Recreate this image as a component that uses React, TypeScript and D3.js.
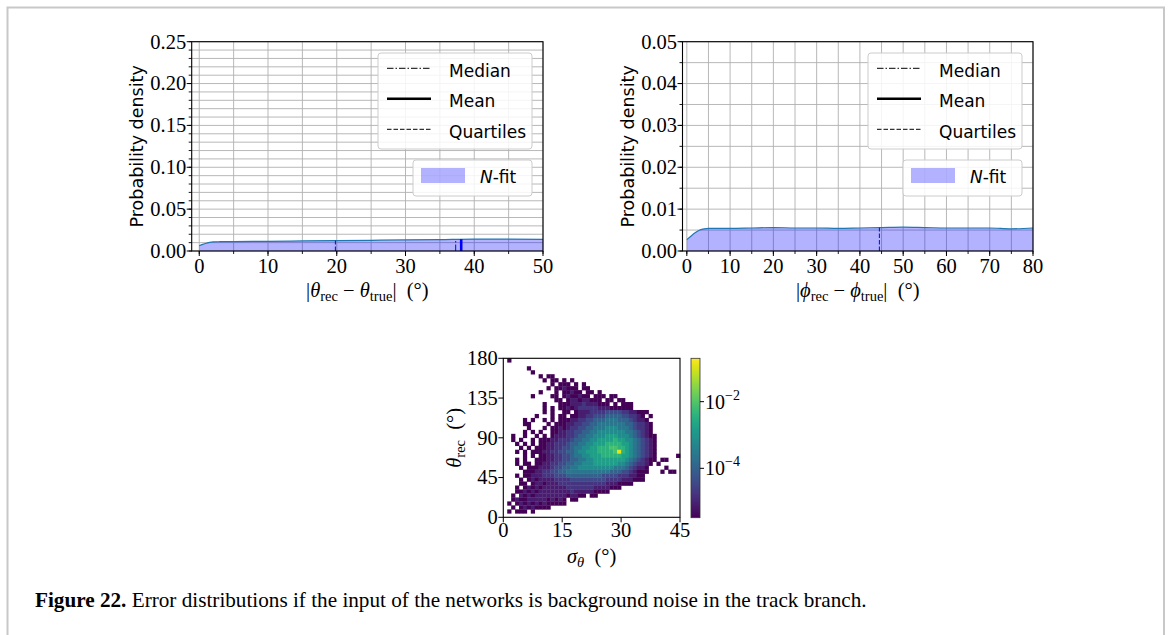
import React from 'react';
import * as d3 from 'd3';

// |theta_rec - theta_true| density curve (degrees, probability density)
const thetaErr = [0, 0.5, 1, 1.5, 2, 3, 5, 10, 15, 20, 25, 30, 35, 40, 45, 50];
const thetaDensity = [0.0062, 0.0079, 0.0093, 0.0102, 0.0108, 0.0111, 0.0113, 0.0116, 0.012, 0.0124, 0.0128, 0.0132, 0.0137, 0.0143, 0.0142, 0.014];
const thetaQuartiles = [19.8];
const thetaMedian = [37.3];
const thetaMean = [38.1];

// |phi_rec - phi_true| density curve
const phiErr = [0, 1, 2, 3, 4, 5, 10, 15, 20, 25, 30, 35, 40, 45, 50, 55, 60, 65, 70, 75, 80];
const phiDensity = [0.0027, 0.0036, 0.0044, 0.005, 0.0053, 0.0054, 0.0054, 0.0055, 0.0056, 0.0055, 0.0055, 0.0054, 0.0055, 0.0056, 0.0057, 0.0056, 0.0055, 0.0055, 0.0055, 0.0053, 0.0055];
const phiQuartiles = [44.5];
const phiMedian: number[] = [];
const phiMean: number[] = [];

// 2D histogram of sigma_theta (columns, 1 deg bins 0..45) vs theta_rec (rows, 4.5 deg bins, 180 at top)
// '.' = empty bin, digits / 'Y' = density level (see levelLog)
const hist2d = [
  '.1... ..... ..... ..... ..... ..... ..... ..... .....',
  '..... ..... ..... ..... ..... ..... ..... ..... .....',
  '..... .1... ..... ..... ..... ..... ..... ..... .....',
  '..... ..1.. ..... ..... ..... ..... ..... ..... .....',
  '..... ....1 .11.. ..... ..... ..... ..... ..... .....',
  '..... ..... 1.11. 1.1.. ..... ..... ..... ..... .....',
  '..... ..... ..1.1 11.1. 1.... ..... ..... ..... .....',
  '..... ..... .1.11 2111. 11... ..... ..... ..... .....',
  '..... ....1 ...1. 11211 .11.1 ..... ..... ..... .....',
  '..... ..1.. ..11. 12112 11.11 1.11. ..... ..... .....',
  '..... ..... ...11 .1221 22111 .11.1 1.... ..... .....',
  '..... ..... 1...1 11222 32221 11.1. 111.. ..... .....',
  '..... ..... 1.1.1 12123 33332 22111 111.. ..... .....',
  '..... ..... 1.1.. 11.12 22333 34444 33221 11... .....',
  '..... ...1. ..1.1 1.112 23344 45555 44332 1.1.. .....',
  '..... 1.1.. 1.1.1 11223 34455 56665 55432 21... .....',
  '..... 11... .1.11 12233 44556 66666 65543 321.. .....',
  '..... .1... 1.112 12334 45566 67776 66543 321.. .....',
  '..... 1.1.1 ..112 23344 55667 77777 76654 321.. .....',
  '..1.. 1..1. 1.122 23345 56677 78887 77654 3211. .....',
  '..1.1 ..1.1 11223 33455 66778 88898 87765 4321. .....',
  '...1. 1.1.1 12233 34556 67788 89999 88765 4321. .....',
  '....1 .1.11 12233 44566 77889 99009 98765 4321. .....',
  '...1. 1.111 22334 45567 78889 9990Y 98765 4321. .....',
  '..... 1.1.1 12233 44566 77888 99999 88765 4321. ....1',
  '...1. 1..11 12233 44556 67788 88888 87654 3211. 11...',
  '...1. 11.11 22334 45566 77788 88887 76543 321.1 .....',
  '....1 .1112 22344 55667 77777 77766 65432 21... .1...',
  '..... 11122 33445 56666 66666 66555 44321 11... 1.11.',
  '...1. 11222 33344 45555 55555 44443 33221 1.... .....',
  '....1 .1212 22233 33444 44444 43333 22211 1.... .....',
  '....1 1.122 12223 33333 33333 32221 111.. ..... .....',
  '...1. 12121 22222 23333 33322 22111 ..... ..... .....',
  '...11 21212 22222 22322 22211 11... ..... ..... .....',
  '..1.2 12122 22222 21221 1.11. ..... ..... ..... .....',
  '..121 12222 21212 1.11. ..... ..... ..... ..... .....',
  '.1.12 12121 21111 1.... ..... ..... ..... ..... .....',
  '..1.1 21211 11... ..... ..... ..... ..... ..... .....',
  '.1.11 1.1.. ..... ..... ..... ..... ..... ..... .....',
  '..... ..... ..... ..... ..... ..... ..... ..... .....',
];
const levelLog: Record<string, number> = {
  '1': -5.45, '2': -5.1, '3': -4.75, '4': -4.4, '5': -4.0, '6': -3.6,
  '7': -3.2, '8': -2.8, '9': -2.4, '0': -2.1, Y: -0.9,
};
const colorbarDomain = [3.3e-6, 0.2];
const colorbarTicks = [1e-2, 1e-4];
const sigmaTicks = [0, 15, 30, 45];
const thetaRecTicks = [0, 45, 90, 135, 180];

const SERIF = '"Liberation Serif", "DejaVu Serif", serif';
const SANS = '"DejaVu Sans", "Noto Sans", sans-serif';

type PanelProps = {
  x0: number; x1: number; y0: number; y1: number;
  xDomain: [number, number]; yMax: number; yMajor: number; yMinor: number;
  xMajor: number; xMinor: number;
  xs: number[]; ys: number[];
  quartiles: number[]; median: number[]; mean: number[];
  sym: string;
};

function MathLabel({ x, y, sym, sub1, sub2 }: { x: number; y: number; sym: string; sub1: string; sub2: string }) {
  return (
    <text x={x} y={y} textAnchor="middle" fontFamily={SERIF} fontSize={20.5} style={{ whiteSpace: 'pre' }}>
      <tspan>|</tspan>
      <tspan fontStyle="italic">{sym}</tspan>
      <tspan fontSize={14.5} dy={4}>{sub1}</tspan>
      <tspan dy={-4}>{' − '}</tspan>
      <tspan fontStyle="italic">{sym}</tspan>
      <tspan fontSize={14.5} dy={4}>{sub2}</tspan>
      <tspan dy={-4}>{'|  (°)'}</tspan>
    </text>
  );
}

function Legend({ right, top }: { right: number; top: number }) {
  const bx = right - 154;
  const rows = [
    { label: 'Median', dash: '6.5,2,1.5,2', w: 1 },
    { label: 'Mean', dash: undefined, w: 2.6 },
    { label: 'Quartiles', dash: '4.5,2', w: 1 },
  ];
  return (
    <g>
      <rect x={bx} y={top} width={154} height={96} rx={3} fill="white" fillOpacity={0.85} stroke="#cccccc" strokeWidth={1} />
      {rows.map((r, i) => {
        const ly = top + 15.3 + i * 30.5;
        return (
          <g key={r.label}>
            <line x1={bx + 9} x2={bx + 53} y1={ly} y2={ly} stroke="black" strokeWidth={r.w} strokeDasharray={r.dash} />
            <text x={bx + 71} y={ly + 8.4} fontFamily={SANS} fontSize={17} fill="black">{r.label}</text>
          </g>
        );
      })}
      <rect x={right - 119} y={top + 107} width={119} height={36} rx={3} fill="white" fillOpacity={0.85} stroke="#cccccc" strokeWidth={1} />
      <rect x={right - 111} y={top + 115} width={44} height={15} fill="#0000ff" fillOpacity={0.3} />
      <text x={right - 52} y={top + 130.3} fontFamily={SANS} fontSize={17} fill="black">
        <tspan fontStyle="italic">N</tspan>-fit
      </text>
    </g>
  );
}

function DensityPanel(p: PanelProps) {
  const x = d3.scaleLinear().domain(p.xDomain).range([p.x0, p.x1]);
  const y = d3.scaleLinear().domain([0, p.yMax]).range([p.y1, p.y0]);
  const eps = 1e-9;
  const hGrid = d3.range(0, p.yMax + eps, p.yMinor);
  const vGrid = d3.range(0, p.xDomain[1] + eps, p.xMinor);
  const yMaj = d3.range(0, p.yMax + eps, p.yMajor);
  const xMaj = d3.range(0, p.xDomain[1] + eps, p.xMajor);
  const pts: [number, number][] = p.xs.map((v, i) => [v, p.ys[i]]);
  const area = d3.area<[number, number]>().x((d) => x(d[0])).y0(y(0)).y1((d) => y(d[1])).curve(d3.curveMonotoneX);
  const line = d3.line<[number, number]>().x((d) => x(d[0])).y((d) => y(d[1])).curve(d3.curveMonotoneX);
  const curveAt = (v: number) => {
    const i = Math.max(1, Math.min(p.xs.length - 1, d3.bisectLeft(p.xs, v)));
    const t = (v - p.xs[i - 1]) / (p.xs[i] - p.xs[i - 1]);
    return p.ys[i - 1] + t * (p.ys[i] - p.ys[i - 1]);
  };
  const fmt = d3.format('.2f');
  const cx = (p.x0 + p.x1) / 2;
  const cy = (p.y0 + p.y1) / 2;
  return (
    <g>
      {hGrid.map((g) => (
        <line key={'h' + g} x1={p.x0} x2={p.x1} y1={y(g)} y2={y(g)} stroke="#b0b0b0" strokeWidth={0.9} />
      ))}
      {vGrid.map((g) => (
        <line key={'v' + g} x1={x(g)} x2={x(g)} y1={p.y0} y2={p.y1} stroke="#b0b0b0" strokeWidth={0.9} />
      ))}
      <path d={area(pts) || ''} fill="#0000ff" fillOpacity={0.3} />
      <path d={line(pts) || ''} fill="none" stroke="#1f77b4" strokeWidth={1.2} />
      {p.quartiles.map((q) => (
        <line key={'q' + q} x1={x(q)} x2={x(q)} y1={y(0)} y2={y(curveAt(q))} stroke="#0000ff" strokeWidth={1} strokeDasharray="4.5,2" />
      ))}
      {p.median.map((q) => (
        <line key={'m' + q} x1={x(q)} x2={x(q)} y1={y(0)} y2={y(curveAt(q))} stroke="#0000ff" strokeWidth={1} strokeDasharray="6.5,2,1.5,2" />
      ))}
      {p.mean.map((q) => (
        <line key={'a' + q} x1={x(q)} x2={x(q)} y1={y(0)} y2={y(curveAt(q))} stroke="#0000ff" strokeWidth={2.6} />
      ))}
      <rect x={p.x0} y={p.y0} width={p.x1 - p.x0} height={p.y1 - p.y0} fill="none" stroke="black" strokeWidth={1.1} />
      {hGrid.map((g) => (
        <line key={'ht' + g} x1={p.x0 - 3} x2={p.x0} y1={y(g)} y2={y(g)} stroke="black" strokeWidth={0.9} />
      ))}
      {yMaj.map((g) => (
        <g key={'yt' + g}>
          <line x1={p.x0 - 5} x2={p.x0} y1={y(g)} y2={y(g)} stroke="black" strokeWidth={1} />
          <text x={p.x0 - 5.5} y={y(g) + 6.8} textAnchor="end" fontFamily={SERIF} fontSize={20.5}>{fmt(g)}</text>
        </g>
      ))}
      {vGrid.map((g) => (
        <line key={'vt' + g} x1={x(g)} x2={x(g)} y1={p.y1} y2={p.y1 + 3} stroke="black" strokeWidth={0.9} />
      ))}
      {xMaj.map((g) => (
        <g key={'xt' + g}>
          <line x1={x(g)} x2={x(g)} y1={p.y1} y2={p.y1 + 5} stroke="black" strokeWidth={1} />
          <text x={x(g)} y={p.y1 + 22} textAnchor="middle" fontFamily={SERIF} fontSize={20.5}>{g}</text>
        </g>
      ))}
      <text transform={`translate(${p.x0 - 48.5},${cy}) rotate(-90)`} textAnchor="middle" fontFamily={SANS} fontSize={17.5}>Probability density</text>
      <MathLabel x={cx} y={p.y1 + 45.5} sym={p.sym} sub1="rec" sub2="true" />
      <Legend right={p.x1 - 11} top={53} />
    </g>
  );
}

function Heatmap() {
  const L = 503.3, R = 680, T = 358.3, B = 517.3;
  const x = d3.scaleLinear().domain([0, 45]).range([L, R]);
  const y = d3.scaleLinear().domain([0, 180]).range([B, T]);
  const color = d3.scaleSequentialLog(d3.interpolateViridis).domain(colorbarDomain as [number, number]);
  const rows = hist2d.map((r) => r.replace(/ /g, '').padEnd(45, '.'));
  const nRows = rows.length;
  const rowH = 180 / nRows;
  const cells: { c: number; r: number; v: number }[] = [];
  rows.forEach((row, r) => {
    for (let c = 0; c < 45; c++) {
      const ch = row[c];
      if (ch !== '.' && levelLog[ch] !== undefined) cells.push({ c, r, v: Math.pow(10, levelLog[ch]) });
    }
  });
  const cbL = 691, cbR = 700, cbT = 358.3, cbB = 517.7;
  const cy = d3.scaleLog().domain(colorbarDomain).range([cbB, cbT]);
  const stops = d3.range(0, 1.0001, 0.05);
  return (
    <g>
      <defs>
        <linearGradient id="viridisBar" x1="0" y1="1" x2="0" y2="0">
          {stops.map((t) => (
            <stop key={t} offset={t} stopColor={d3.interpolateViridis(t)} />
          ))}
        </linearGradient>
      </defs>
      {cells.map((d) => {
        const th = 180 - d.r * rowH;
        return (
          <rect key={d.r + '-' + d.c} x={x(d.c)} y={y(th)} width={x(d.c + 1) - x(d.c) + 0.3} height={y(th - rowH) - y(th) + 0.3} fill={color(d.v)} />
        );
      })}
      <rect x={L} y={T} width={R - L} height={B - T} fill="none" stroke="black" strokeWidth={1.1} />
      {sigmaTicks.map((t) => (
        <g key={'sx' + t}>
          <line x1={x(t)} x2={x(t)} y1={B} y2={B + 5} stroke="black" />
          <text x={x(t)} y={B + 20} textAnchor="middle" fontFamily={SERIF} fontSize={20.5}>{t}</text>
        </g>
      ))}
      {thetaRecTicks.map((t) => (
        <g key={'sy' + t}>
          <line x1={L - 5} x2={L} y1={y(t)} y2={y(t)} stroke="black" />
          <text x={L - 5.5} y={y(t) + 6.8} textAnchor="end" fontFamily={SERIF} fontSize={20.5}>{t}</text>
        </g>
      ))}
      <text x={(L + R) / 2} y={562.5} textAnchor="middle" fontFamily={SERIF} fontSize={20.5} style={{ whiteSpace: 'pre' }}>
        <tspan fontStyle="italic">σ</tspan>
        <tspan fontStyle="italic" fontSize={14.5} dy={4}>θ</tspan>
        <tspan dy={-4}>{'  (°)'}</tspan>
      </text>
      <text transform={`translate(461,${(T + B) / 2}) rotate(-90)`} textAnchor="middle" fontFamily={SERIF} fontSize={20.5} style={{ whiteSpace: 'pre' }}>
        <tspan fontStyle="italic">θ</tspan>
        <tspan fontSize={14.5} dy={4}>rec</tspan>
        <tspan dy={-4}>{'  (°)'}</tspan>
      </text>
      <rect x={cbL} y={cbT} width={cbR - cbL} height={cbB - cbT} fill="url(#viridisBar)" stroke="#333" strokeWidth={0.8} />
      {colorbarTicks.map((t) => (
        <g key={'cb' + t}>
          <line x1={cbR} x2={cbR + 4} y1={cy(t)} y2={cy(t)} stroke="black" />
          <text x={cbR + 5} y={cy(t) + 7} fontFamily={SERIF} fontSize={20}>
            10<tspan fontSize={14} dy={-9}>{'−' + Math.round(-Math.log10(t))}</tspan>
          </text>
        </g>
      ))}
    </g>
  );
}

export default function App() {
  return (
    <svg width={1168} height={635} style={{ position: 'absolute', left: 0, top: 0, background: 'white' }}>
      <rect x={0} y={0} width={1168} height={635} fill="white" />
      <path d="M7.5,640 L7.5,7.5 L1164,7.5 L1164,640" fill="none" stroke="#c8c8c8" strokeWidth={2} />
      <DensityPanel
        x0={191.7} x1={543} y0={41.7} y1={251}
        xDomain={[-1.1, 50]} yMax={0.25} yMajor={0.05} yMinor={0.01}
        xMajor={10} xMinor={5}
        xs={thetaErr} ys={thetaDensity}
        quartiles={thetaQuartiles} median={thetaMedian} mean={thetaMean}
        sym="θ"
      />
      <DensityPanel
        x0={682.5} x1={1033} y0={41.7} y1={251}
        xDomain={[-1, 80]} yMax={0.05} yMajor={0.01} yMinor={0.005}
        xMajor={10} xMinor={5}
        xs={phiErr} ys={phiDensity}
        quartiles={phiQuartiles} median={phiMedian} mean={phiMean}
        sym="ϕ"
      />
      <Heatmap />
      <text x={35} y={606.5} fontFamily={SERIF} fontSize={21.2}>
        <tspan fontWeight="bold">Figure 22.</tspan>
        {' Error distributions if the input of the networks is background noise in the track branch.'}
      </text>
    </svg>
  );
}
